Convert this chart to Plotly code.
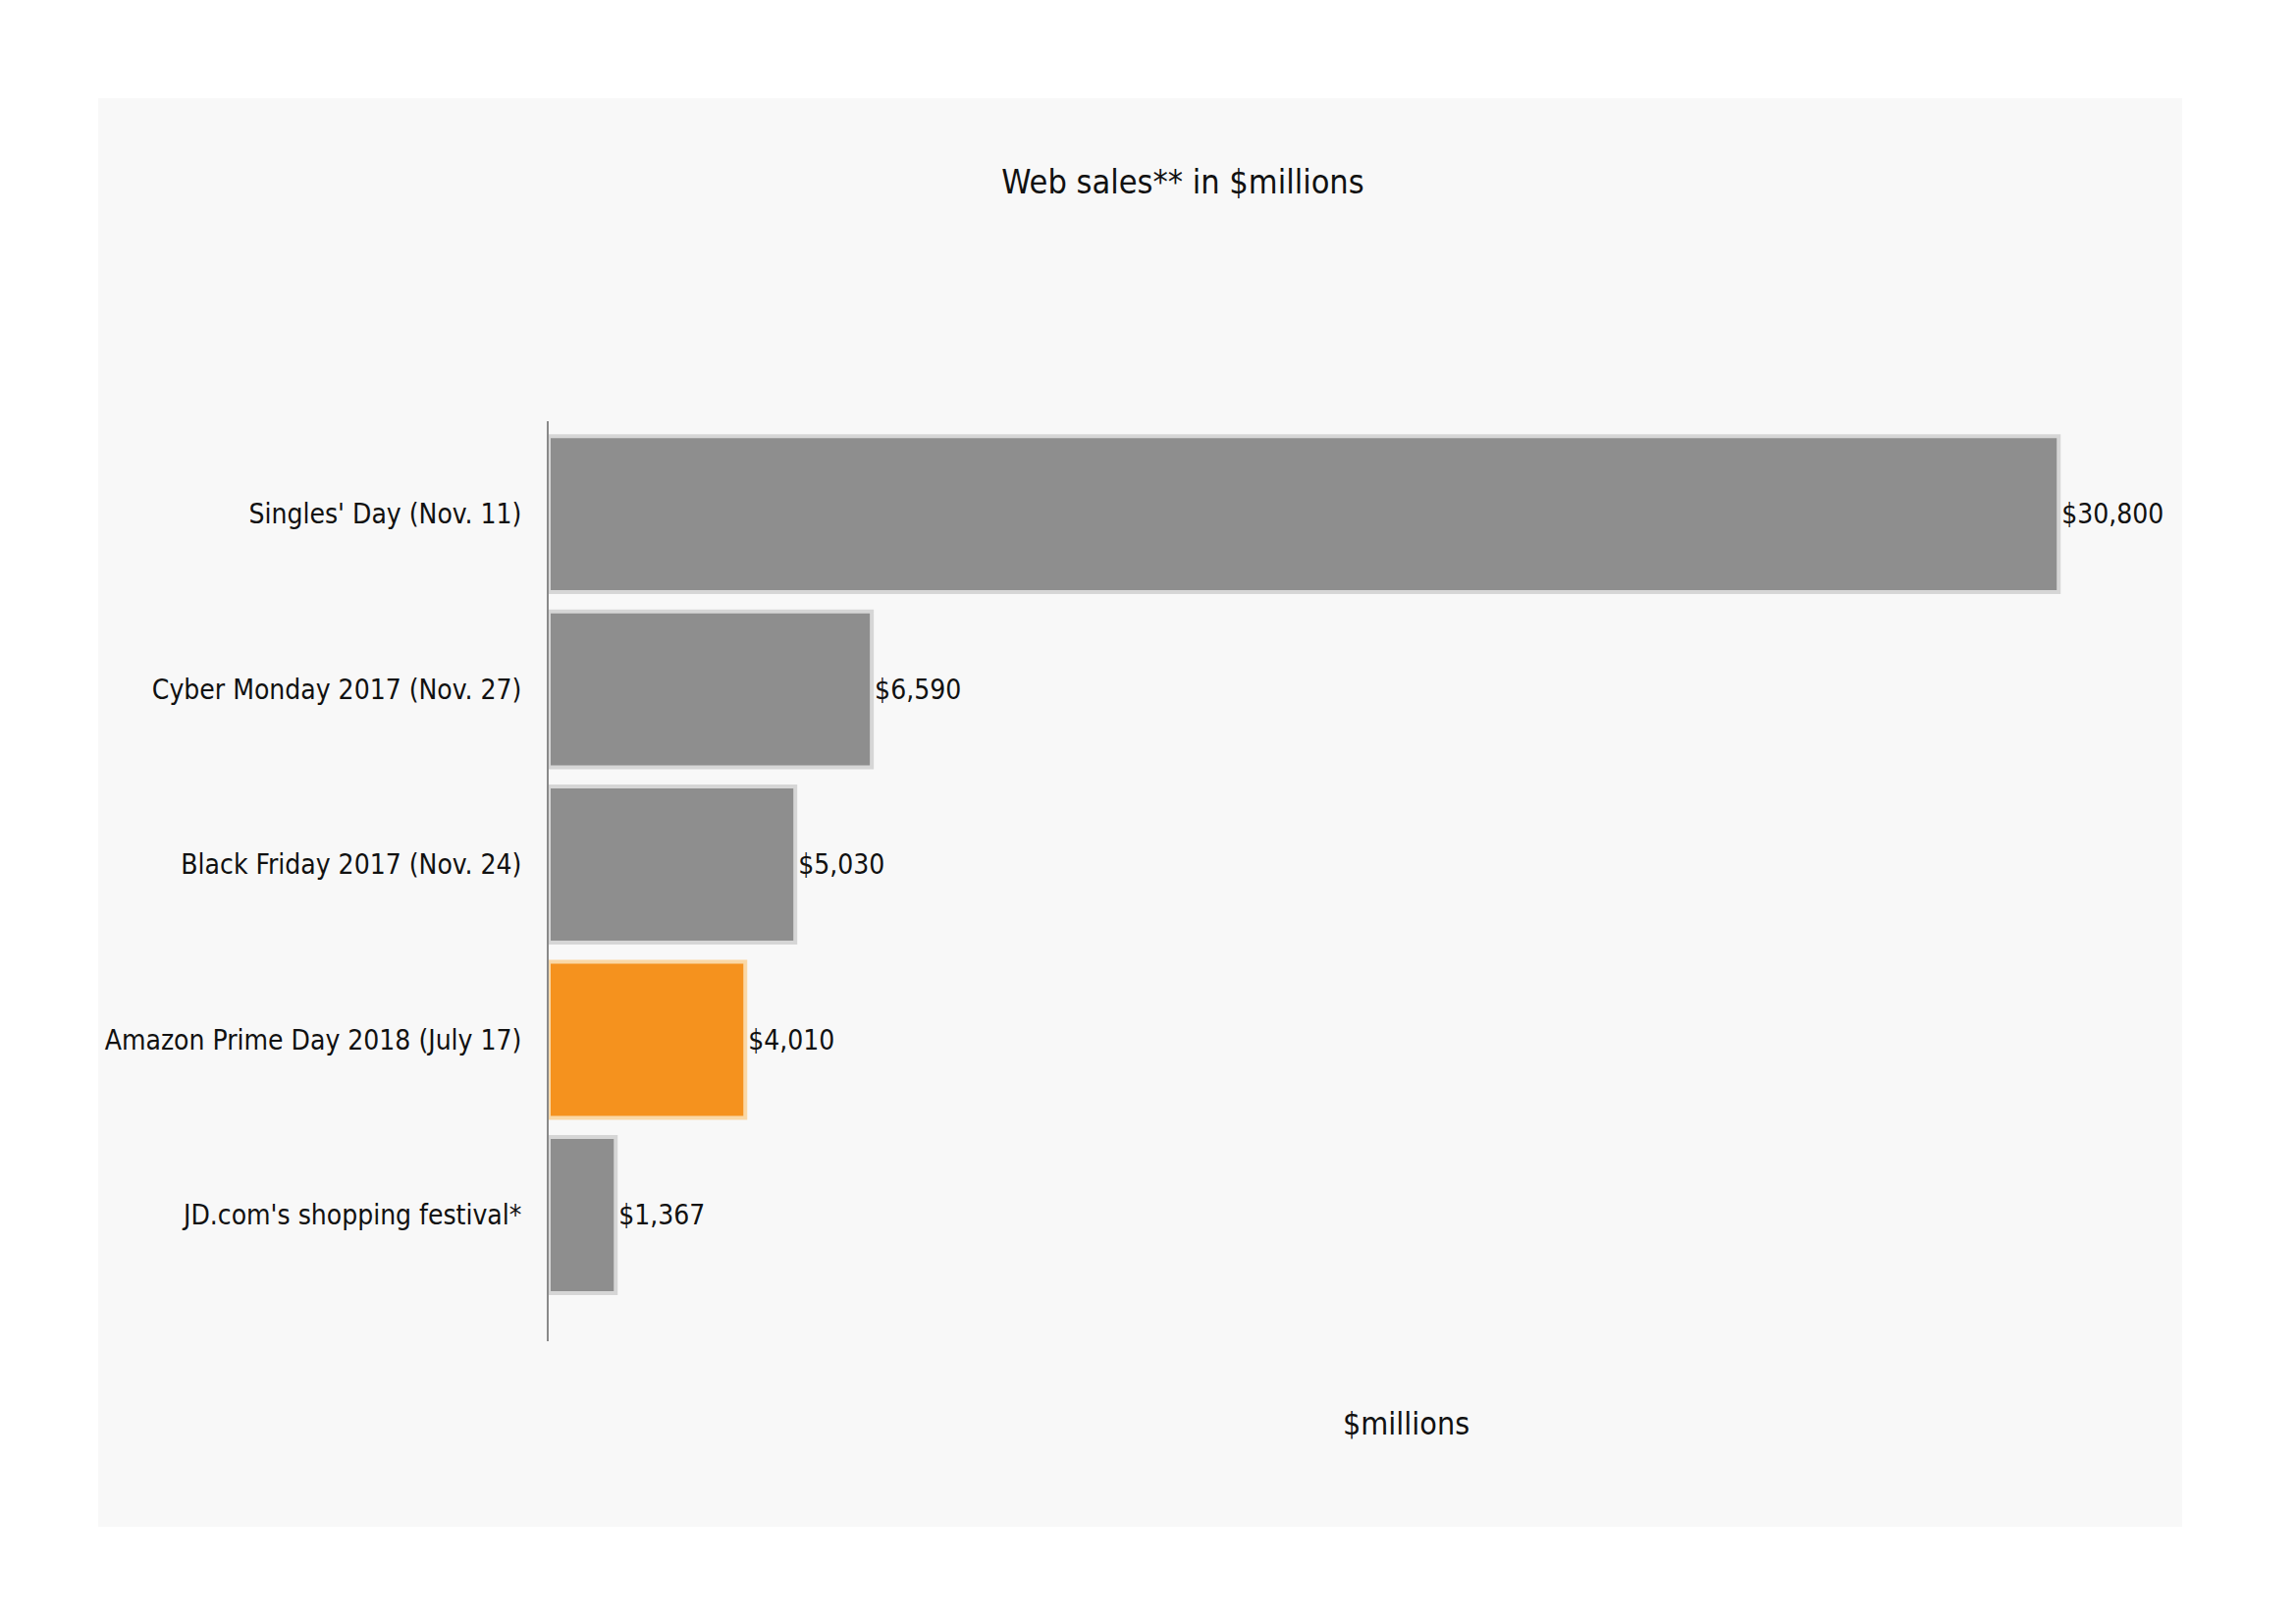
import plotly.graph_objects as go

events = [
    "Singles' Day (Nov. 11)",
    "Cyber Monday 2017 (Nov. 27)",
    "Black Friday 2017 (Nov. 24)",
    "Amazon Prime Day 2018 (July 17)",
    "JD.com's shopping festival*",
]
sales = [30800, 6590, 5030, 4010, 1367]
value_labels = ["$30,800", "$6,590", "$5,030", "$4,010", "$1,367"]
highlight = "Amazon Prime Day 2018 (July 17)"

W, H = 2339, 1654
FONT = "Liberation Sans Narrow, DejaVu Sans Condensed, Liberation Sans, Arial"

fill = ["#F5921E" if e == highlight else "#8E8E8E" for e in events]
edge = ["#FAD8A6" if e == highlight else "#D6D6D6" for e in events]

fig = go.Figure()
fig.add_trace(go.Bar(
    y=events, x=sales, orientation="h",
    marker=dict(color=fill, line=dict(color=edge, width=4)),
    text=value_labels, textposition="outside", cliponaxis=False,
    textfont=dict(family=FONT, size=28, color="#111111"),
    hoverinfo="skip",
))

# plot area in pixels (page body adds an 8px offset)
left, right, top, bottom = 551, 2297, 421, 1358
pw, ph = right - left, bottom - top

fig.update_layout(
    width=W, height=H,
    margin=dict(l=left, r=W - right, t=top, b=H - bottom, pad=0),
    paper_bgcolor="white",
    plot_bgcolor="rgba(0,0,0,0)",
    bargap=0.11,
    showlegend=False,
    font=dict(family=FONT, color="#111111"),
    title=dict(
        text="Web sales** in $millions",
        x=1197 / W, xanchor="center",
        y=1 - 177 / H, yanchor="middle", yref="container",
        font=dict(family=FONT, size=34, color="#111111"),
    ),
    xaxis=dict(
        range=[0, 34960], showgrid=False, zeroline=False,
        showticklabels=False, showline=False, ticks="",
        automargin=False,
    ),
    yaxis=dict(
        categoryorder="array", categoryarray=events[::-1],
        range=[-0.72, 4.53],
        showgrid=False, zeroline=False,
        showline=True, linecolor="#8a8a8a", linewidth=2,
        ticks="", ticklabelstandoff=20, automargin=False,
        tickfont=dict(family=FONT, size=28, color="#111111"),
    ),
    shapes=[dict(
        type="rect", xref="paper", yref="paper", layer="below",
        x0=(92 - left) / pw, x1=(2215 - left) / pw,
        y0=(bottom - 1547) / ph, y1=(bottom - 92) / ph,
        fillcolor="#F8F8F8", line=dict(width=0),
    )],
    annotations=[dict(
        text="$millions", xref="paper", yref="paper",
        x=0.5, y=(bottom - 1442) / ph, xanchor="center", yanchor="middle",
        showarrow=False, font=dict(family=FONT, size=32, color="#111111"),
    )],
)

fig.write_html("out.html")
